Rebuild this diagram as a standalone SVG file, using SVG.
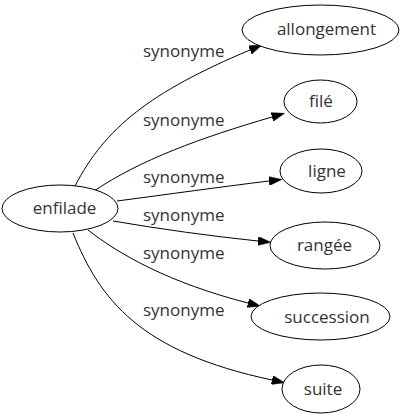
<svg xmlns="http://www.w3.org/2000/svg" width="404" height="419" viewBox="0 0 404 419">
<style>
.node ellipse{fill:#fff;stroke:#000;stroke-width:1}
.node text{font-family:"Open Sans","DejaVu Sans",sans-serif;font-size:17px;fill:#333;text-anchor:middle}
.lbl{font-family:"Open Sans","DejaVu Sans",sans-serif;font-size:17px;fill:#333;text-anchor:start}
.edge{fill:none;stroke:#000;stroke-width:1}
</style>
<defs>
<marker id="arr" markerUnits="userSpaceOnUse" markerWidth="13" markerHeight="9" refX="0" refY="4.5" orient="auto" viewBox="0 0 13 9">
<path d="M0,0 L13,4.5 L0,9 z" fill="#000" stroke="#000" stroke-width="0.5"/>
</marker>
</defs>
<rect width="404" height="419" fill="#fff"/>
<g id="connectors">
<path class="edge" d="M75,186 C105,128 150,92 250,50" marker-end="url(#arr)"/>
<path class="edge" d="M94,191 C140,160 200,138 272,117" marker-end="url(#arr)"/>
<path class="edge" d="M117,201 C170,194 220,187 269,181" marker-end="url(#arr)"/>
<path class="edge" d="M113,221 C160,229 210,236 258,241" marker-end="url(#arr)"/>
<path class="edge" d="M88,230 C120,255 170,283 248,303" marker-end="url(#arr)"/>
<path class="edge" d="M73,233 C100,300 140,352 272,380" marker-end="url(#arr)"/>
<text class="lbl" x="143" y="57">synonyme</text>
<text class="lbl" x="143" y="126">synonyme</text>
<text class="lbl" x="143" y="183">synonyme</text>
<text class="lbl" x="143" y="221">synonyme</text>
<text class="lbl" x="143" y="259">synonyme</text>
<text class="lbl" x="143" y="316">synonyme</text>
</g>
<g id="enfilade" class="node"><ellipse cx="60" cy="208.5" rx="58" ry="23.5"/><text x="64.5" y="213.5">enfilade</text></g>
<g id="allongement" class="node"><ellipse cx="320.5" cy="30" rx="78.5" ry="25"/><text x="326.5" y="35">allongement</text></g>
<g id="file" class="node"><ellipse cx="320.5" cy="101.5" rx="36.5" ry="21.5"/><text x="321" y="107">filé</text></g>
<g id="ligne" class="node"><ellipse cx="321" cy="171" rx="41" ry="22"/><text x="327" y="177">ligne</text></g>
<g id="rangee" class="node"><ellipse cx="325" cy="245.5" rx="55" ry="23.5"/><text x="324.5" y="251">rangée</text></g>
<g id="succession" class="node"><ellipse cx="320.5" cy="316.5" rx="69.5" ry="23.5"/><text x="327" y="322.5">succession</text></g>
<g id="suite" class="node"><ellipse cx="321" cy="389" rx="39" ry="24"/><text x="323" y="394.5">suite</text></g>
</svg>
